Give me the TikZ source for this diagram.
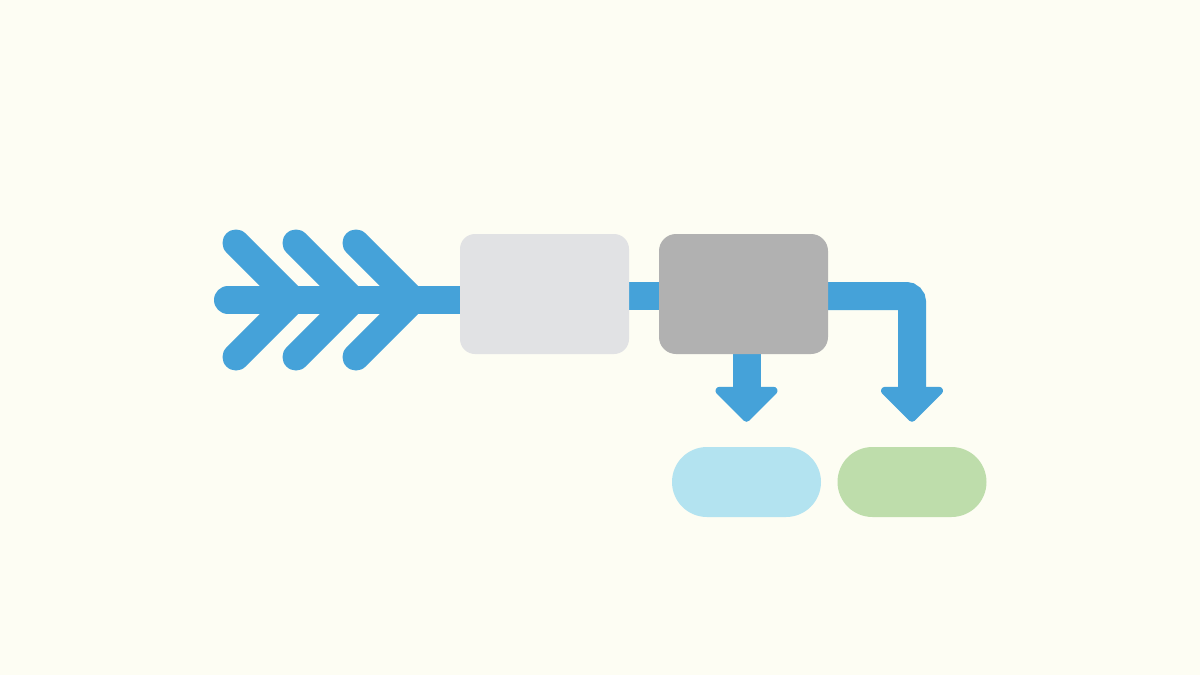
\documentclass[tikz,border=0pt]{standalone}
\usetikzlibrary{calc}
\definecolor{bgc}{HTML}{FDFDF3}
\definecolor{flowblue}{HTML}{45A2D9}
\definecolor{boxlight}{HTML}{E1E2E4}
\definecolor{boxdark}{HTML}{B1B1B1}
\definecolor{pillblue}{HTML}{B3E3F0}
\definecolor{pillgreen}{HTML}{BEDDAB}
\pgfdeclarelayer{back}
\pgfsetlayers{back,main}
\tikzset{
  conn/.style={draw=flowblue, line width=28pt},
  chev/.style={draw=flowblue, line width=27pt, line cap=round, line join=round},
  boxnode/.style={rectangle, rounded corners=15pt, minimum width=169pt, minimum height=120pt, inner sep=0pt},
  pill/.style={rectangle, rounded corners=35pt, minimum width=149pt, minimum height=70pt, inner sep=0pt},
  headfill/.style={fill=flowblue, draw=flowblue, line width=8pt, line join=round}
}
\begin{document}
\begin{tikzpicture}[x=1pt,y=-1pt]
\begin{pgfonlayer}{back}
\fill[bgc] (0,0) rectangle (1200,675);
\end{pgfonlayer}
\useasboundingbox (0,0) rectangle (1200,675);
% nodes
\node[boxnode, fill=boxlight] (box1) at (544.5,294) {};
\node[boxnode, fill=boxdark, rounded corners=17pt] (box2) at (743.5,294) {};
\node[pill, fill=pillblue] (pill1) at (746.5,482) {};
\node[pill, fill=pillgreen] (pill2) at (912,482) {};
\coordinate (start) at (228,300);
\begin{pgfonlayer}{back}
% chevrons
\foreach \dx in {0,60,120}{
  \draw[chev] (236+\dx,243) -- (293+\dx,300) -- (236+\dx,357);
}
% main bar
\draw[conn, line cap=round] (start) -- (box1.center |- start);
% box2 <- box1
\draw[conn] (box1.center |- 0,296) -- (box2.center |- 0,296);
% box2 -> pill1
\draw[conn] (box2.center -| pill1.north) -- ($(pill1.north)+(0,-55)$);
% box2 -> pill2
\draw[conn, rounded corners=6pt] (box2.center |- 0,296) -| ($(pill2.north)+(0,-55)$);
\end{pgfonlayer}
\fill[headfill] ($(pill1.north)+(-27,-56)$) -- ++(54,0) -- ++(-27,27) -- cycle;
\fill[headfill] ($(pill2.north)+(-27,-56)$) -- ++(54,0) -- ++(-27,27) -- cycle;
\end{tikzpicture}
\end{document}
